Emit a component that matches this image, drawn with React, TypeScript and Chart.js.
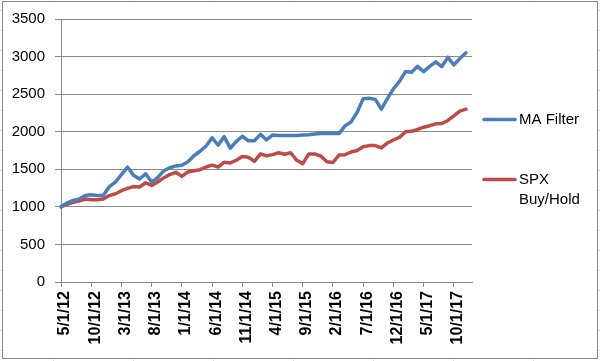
import React, { useEffect, useRef } from "react";
import { Chart, registerables } from "chart.js";

Chart.register(...registerables);

// Month categories (first of each month)
const categories = [
  "5/1/12", "6/1/12", "7/1/12", "8/1/12", "9/1/12", "10/1/12", "11/1/12", "12/1/12",
  "1/1/13", "2/1/13", "3/1/13", "4/1/13", "5/1/13", "6/1/13", "7/1/13", "8/1/13", "9/1/13", "10/1/13", "11/1/13", "12/1/13",
  "1/1/14", "2/1/14", "3/1/14", "4/1/14", "5/1/14", "6/1/14", "7/1/14", "8/1/14", "9/1/14", "10/1/14", "11/1/14", "12/1/14",
  "1/1/15", "2/1/15", "3/1/15", "4/1/15", "5/1/15", "6/1/15", "7/1/15", "8/1/15", "9/1/15", "10/1/15", "11/1/15", "12/1/15",
  "1/1/16", "2/1/16", "3/1/16", "4/1/16", "5/1/16", "6/1/16", "7/1/16", "8/1/16", "9/1/16", "10/1/16", "11/1/16", "12/1/16",
  "1/1/17", "2/1/17", "3/1/17", "4/1/17", "5/1/17", "6/1/17", "7/1/17", "8/1/17", "9/1/17", "10/1/17", "11/1/17", "12/1/17",
  "1/1/18",
];

const maFilter = [
  1000, 1050, 1085, 1105, 1150, 1160, 1150, 1150,
  1270, 1330, 1430, 1530, 1420, 1370, 1440, 1330, 1390, 1480, 1520, 1545,
  1555, 1600, 1680, 1740, 1810, 1920, 1820, 1935, 1780, 1870, 1940, 1880,
  1880, 1965, 1890, 1955, 1950, 1950, 1950, 1950, 1955, 1960, 1970, 1975,
  1975, 1975, 1975, 2080, 2130, 2260, 2440, 2445, 2430, 2300, 2440, 2570,
  2670, 2800, 2790, 2870, 2800, 2870, 2930, 2865, 2990, 2890, 2975, 3050,
];

const spxBuyHold = [
  1000, 1035, 1060, 1078, 1105, 1095, 1095, 1105,
  1150, 1175, 1215, 1245, 1270, 1265, 1320, 1285, 1330, 1385, 1430, 1460,
  1405, 1465, 1480, 1495, 1530, 1555, 1530, 1595, 1585, 1620, 1670, 1660,
  1605, 1705, 1680, 1695, 1720, 1700, 1720, 1620, 1575, 1705, 1705, 1675,
  1600, 1590, 1690, 1695, 1730, 1750, 1800, 1815, 1815, 1785, 1850, 1890,
  1925, 2000, 2005, 2030, 2060, 2080, 2105, 2110, 2150, 2210, 2275, 2300,
];

const seriesNames = ["MA Filter", "SPX Buy/Hold"];
const seriesColors = ["#4A7EBB", "#BE4B48"];

const yMin = 0;
const yMax = 3500;
const yStep = 500;
const labelEvery = 5;

const FONT = "'Liberation Sans', Arial, sans-serif";
const GRID = "#8a8a8a";

const sideLegend = {
  id: "sideLegend",
  afterDraw(chart: any) {
    const ctx = chart.ctx as CanvasRenderingContext2D;
    const rows = [119.5, 179.5];
    chart.data.datasets.forEach((ds: any, i: number) => {
      const y = rows[i];
      ctx.save();
      ctx.strokeStyle = ds.borderColor;
      ctx.lineWidth = 3.5;
      ctx.lineCap = "round";
      ctx.beginPath();
      ctx.moveTo(484, y);
      ctx.lineTo(515, y);
      ctx.stroke();
      ctx.font = `15px ${FONT}`;
      ctx.fillStyle = "#000";
      ctx.textBaseline = "middle";
      ctx.textAlign = "left";
      const words = String(ds.label).split(" ");
      const lines: string[] = [];
      let cur = "";
      for (const w of words) {
        const t = cur ? cur + " " + w : w;
        if (cur && ctx.measureText(t).width > 72) {
          lines.push(cur);
          cur = w;
        } else cur = t;
      }
      lines.push(cur);
      lines.forEach((l, k) => ctx.fillText(l, 519, y + k * 20));
      ctx.restore();
    });
  },
};

export default function App() {
  const ref = useRef<HTMLCanvasElement | null>(null);

  useEffect(() => {
    if (!ref.current) return;
    const chart = new Chart(ref.current, {
      type: "line",
      data: {
        labels: categories,
        datasets: [
          {
            label: seriesNames[0],
            data: maFilter,
            borderColor: seriesColors[0],
            backgroundColor: seriesColors[0],
            borderWidth: 3.5,
            pointRadius: 0,
            tension: 0,
            borderJoinStyle: "round",
            borderCapStyle: "round",
          },
          {
            label: seriesNames[1],
            data: spxBuyHold,
            borderColor: seriesColors[1],
            backgroundColor: seriesColors[1],
            borderWidth: 3.5,
            pointRadius: 0,
            tension: 0,
            borderJoinStyle: "round",
            borderCapStyle: "round",
          },
        ],
      },
      options: {
        animation: false,
        responsive: false,
        layout: { padding: { top: 19, right: 128, left: 0, bottom: 0 } },
        plugins: { legend: { display: false }, tooltip: { enabled: false } },
        scales: {
          x: {
            type: "category",
            offset: false,
            afterFit: (s: any) => {
              s.height = 79;
            },
            grid: {
              display: true,
              drawOnChartArea: false,
              drawTicks: true,
              tickLength: 5,
              color: GRID,
            },
            border: { display: true, color: GRID },
            ticks: {
              autoSkip: false,
              minRotation: 90,
              maxRotation: 90,
              padding: 4,
              labelOffset: 4,
              color: "#000",
              font: { family: FONT, size: 16, weight: "bold" },
              callback: function (this: any, value: any, index: number) {
                return index % labelEvery === 0 ? this.getLabelForValue(value) : null;
              },
            },
          },
          y: {
            min: yMin,
            max: yMax,
            afterFit: (s: any) => {
              s.width = 61;
            },
            grid: { color: GRID, tickLength: 6, drawTicks: true },
            border: { display: true, color: GRID },
            ticks: {
              stepSize: yStep,
              padding: 10,
              color: "#000",
              font: { family: FONT, size: 15 },
              callback: (value: any) => String(value),
            },
          },
        },
      },
      plugins: [sideLegend],
    });
    return () => chart.destroy();
  }, []);

  return (
    <div
      style={{
        position: "fixed",
        left: 0,
        top: 0,
        width: 600,
        height: 361,
        backgroundColor: "#fff",
        backgroundImage:
          "repeating-linear-gradient(90deg, transparent 0px, transparent 53px, #dcdcdc 53px, #dcdcdc 54px, transparent 54px, transparent 80px), repeating-linear-gradient(180deg, transparent 0px, transparent 10px, #dcdcdc 10px, #dcdcdc 11px, transparent 11px, transparent 20px)",
      }}
    >
      <div
        style={{
          position: "absolute",
          left: 2,
          top: 1,
          width: 594,
          height: 356,
          border: "1px solid #878787",
          background: "#fff",
        }}
      />
      <canvas
        ref={ref}
        width={600}
        height={361}
        style={{ position: "absolute", left: 0, top: 0, width: 600, height: 361 }}
      />
    </div>
  );
}
